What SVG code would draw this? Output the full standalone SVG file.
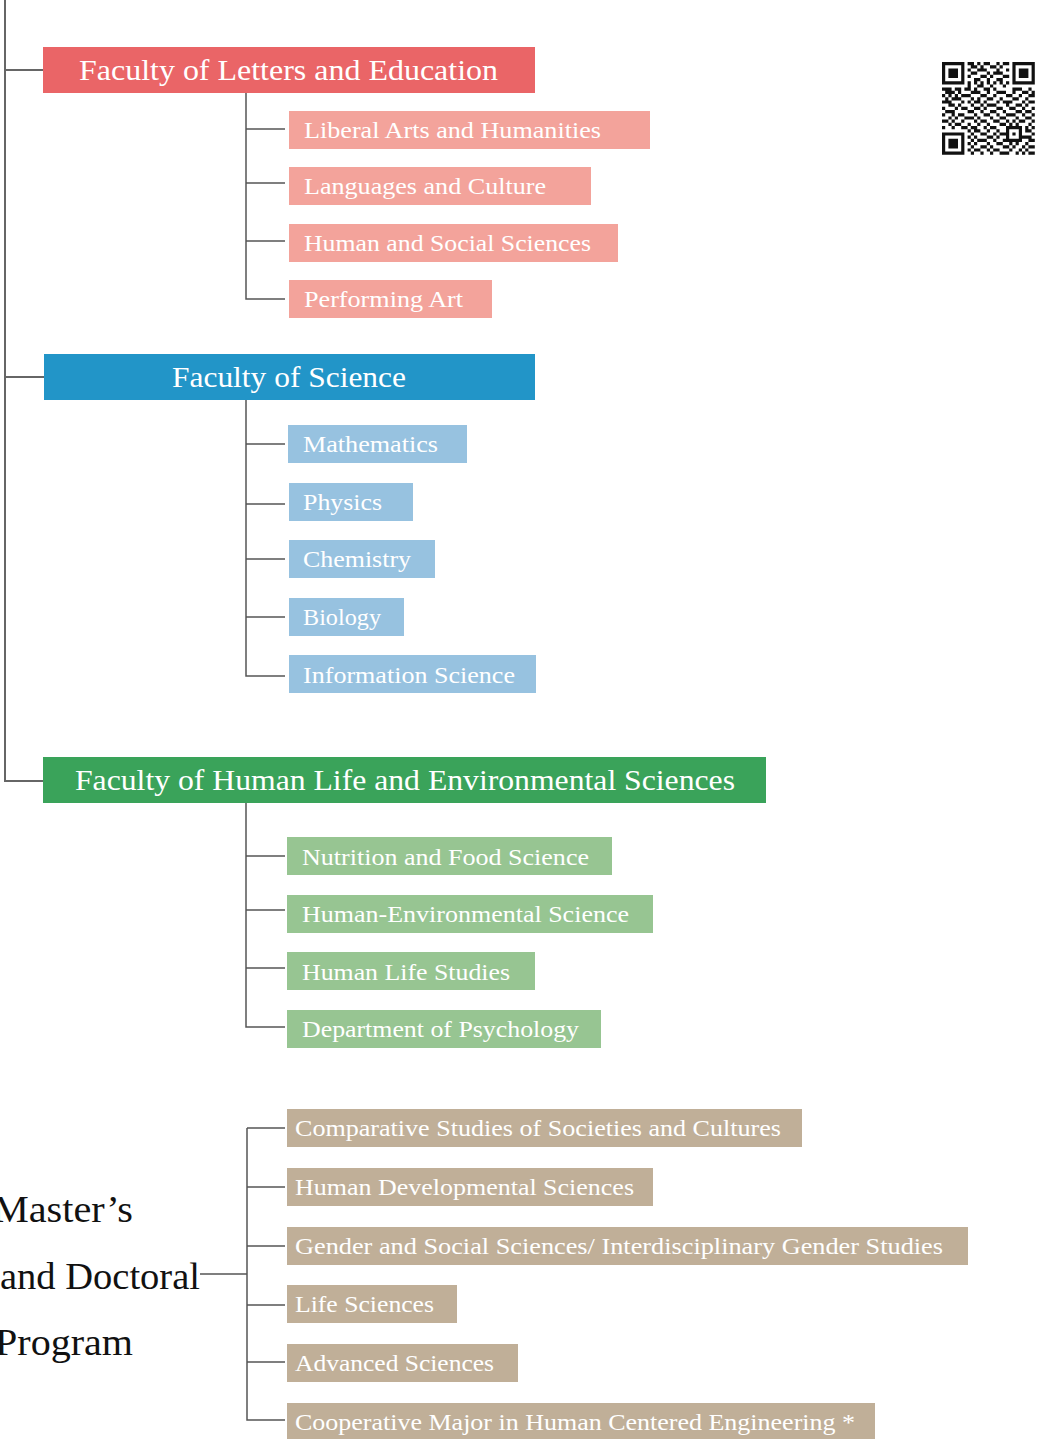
<svg xmlns="http://www.w3.org/2000/svg" width="1039" height="1439" viewBox="0 0 1039 1439">
<style>
.t{font-family:"Liberation Serif","Times New Roman",serif;fill:#fff}
.f{font-size:30px}
.s{font-size:23px}
.m{font-family:"Liberation Serif","Times New Roman",serif;font-size:38px;fill:#111}
.ln{fill:none;stroke:#555;stroke-width:1.5}
.tr{fill:none;stroke:#666;stroke-width:2}
.red{fill:#EA6567}.pink{fill:#F3A39B}
.blue{fill:#2295C8}.lblue{fill:#97C2E0}
.green{fill:#3AA35A}.lgreen{fill:#97C592}
.tan{fill:#C0AF98}
</style>
<rect width="1039" height="1439" fill="#fff"/>
<g id="connectors">
<path class="tr" d="M5 0V781H43M5 70H44M5 377H44"/>
<path class="ln" d="M246 93V299H285M246 129H285M246 183H285M246 241H285"/>
<path class="ln" d="M246 400V676H285M246 444H285M246 504H285M246 559H285M246 617H285"/>
<path class="ln" d="M246 803V1027H285M246 856H285M246 910H285M246 968H285"/>
<path class="ln" d="M200 1274H247M247 1128V1420H285M247 1128H285M247 1187H285M247 1246H285M247 1305H285M247 1362H285"/>
</g>
<g id="fac-letters"><rect class="red" x="43" y="47" width="492" height="46"/><text class="t f" x="79" y="80" textLength="419" lengthAdjust="spacingAndGlyphs">Faculty of Letters and Education</text></g>
<g id="liberal"><rect class="pink" x="289" y="111" width="361" height="38"/><text class="t s" x="304" y="138" textLength="297" lengthAdjust="spacingAndGlyphs">Liberal Arts and Humanities</text></g>
<g id="languages"><rect class="pink" x="289" y="167" width="302" height="38"/><text class="t s" x="304" y="194" textLength="242" lengthAdjust="spacingAndGlyphs">Languages and Culture</text></g>
<g id="human-social"><rect class="pink" x="289" y="224" width="329" height="38"/><text class="t s" x="304" y="251" textLength="287" lengthAdjust="spacingAndGlyphs">Human and Social Sciences</text></g>
<g id="performing"><rect class="pink" x="289" y="280" width="203" height="38"/><text class="t s" x="304" y="307" textLength="159" lengthAdjust="spacingAndGlyphs">Performing Art</text></g>
<g id="fac-science"><rect class="blue" x="44" y="354" width="491" height="46"/><text class="t f" x="172" y="387" textLength="234" lengthAdjust="spacingAndGlyphs">Faculty of Science</text></g>
<g id="math"><rect class="lblue" x="288" y="425" width="179" height="38"/><text class="t s" x="303" y="452" textLength="135" lengthAdjust="spacingAndGlyphs">Mathematics</text></g>
<g id="physics"><rect class="lblue" x="289" y="483" width="124" height="38"/><text class="t s" x="303" y="510" textLength="79" lengthAdjust="spacingAndGlyphs">Physics</text></g>
<g id="chemistry"><rect class="lblue" x="289" y="540" width="146" height="38"/><text class="t s" x="303" y="567" textLength="108" lengthAdjust="spacingAndGlyphs">Chemistry</text></g>
<g id="biology"><rect class="lblue" x="289" y="598" width="115" height="38"/><text class="t s" x="303" y="625" textLength="78" lengthAdjust="spacingAndGlyphs">Biology</text></g>
<g id="info"><rect class="lblue" x="289" y="655" width="247" height="38"/><text class="t s" x="303" y="683" textLength="212" lengthAdjust="spacingAndGlyphs">Information Science</text></g>
<g id="fac-hle"><rect class="green" x="43" y="757" width="723" height="46"/><text class="t f" x="75" y="790" textLength="660" lengthAdjust="spacingAndGlyphs">Faculty of Human Life and Environmental Sciences</text></g>
<g id="nutrition"><rect class="lgreen" x="287" y="837" width="325" height="38"/><text class="t s" x="302" y="865" textLength="287" lengthAdjust="spacingAndGlyphs">Nutrition and Food Science</text></g>
<g id="human-env"><rect class="lgreen" x="287" y="895" width="366" height="38"/><text class="t s" x="302" y="922" textLength="327" lengthAdjust="spacingAndGlyphs">Human-Environmental Science</text></g>
<g id="human-life"><rect class="lgreen" x="287" y="952" width="248" height="38"/><text class="t s" x="302" y="980" textLength="208" lengthAdjust="spacingAndGlyphs">Human Life Studies</text></g>
<g id="psychology"><rect class="lgreen" x="287" y="1010" width="314" height="38"/><text class="t s" x="302" y="1037" textLength="277" lengthAdjust="spacingAndGlyphs">Department of Psychology</text></g>
<g id="program"><text class="m" x="-7" y="1222" textLength="140" lengthAdjust="spacingAndGlyphs">Master’s</text><text class="m" x="0" y="1289" textLength="200" lengthAdjust="spacingAndGlyphs">and Doctoral</text><text class="m" x="-5" y="1355" textLength="138" lengthAdjust="spacingAndGlyphs">Program</text></g>
<g id="comparative"><rect class="tan" x="287" y="1109" width="515" height="38"/><text class="t s" x="295" y="1136" textLength="486" lengthAdjust="spacingAndGlyphs">Comparative Studies of Societies and Cultures</text></g>
<g id="developmental"><rect class="tan" x="287" y="1168" width="366" height="38"/><text class="t s" x="295" y="1195" textLength="339" lengthAdjust="spacingAndGlyphs">Human Developmental Sciences</text></g>
<g id="gender"><rect class="tan" x="287" y="1227" width="681" height="38"/><text class="t s" x="295" y="1254" textLength="648" lengthAdjust="spacingAndGlyphs">Gender and Social Sciences/ Interdisciplinary Gender Studies</text></g>
<g id="life-sci"><rect class="tan" x="287" y="1285" width="170" height="38"/><text class="t s" x="295" y="1312" textLength="139" lengthAdjust="spacingAndGlyphs">Life Sciences</text></g>
<g id="advanced"><rect class="tan" x="287" y="1344" width="231" height="38"/><text class="t s" x="295" y="1371" textLength="199" lengthAdjust="spacingAndGlyphs">Advanced Sciences</text></g>
<g id="cooperative"><rect class="tan" x="287" y="1403" width="588" height="36"/><text class="t s" x="295" y="1430" textLength="560" lengthAdjust="spacingAndGlyphs">Cooperative Major in Human Centered Engineering *</text></g>
<g id="qr" transform="translate(942,62) scale(3.2)" fill="#111">
<path fill-rule="evenodd" d="M0 0h7v7h-7zM1 1h5v5h-5zM2 2h3v3h-3zM22 0h7v7h-7zM23 1h5v5h-5zM24 2h3v3h-3zM0 22h7v7h-7zM1 23h5v5h-5zM2 24h3v3h-3zM20 20h5v5h-5zM21 21h3v3h-3zM22 22h1v1h-1z"/>
<path d="M8 0h2v1h-2zM11 0h1v1h-1zM13 0h2v1h-2zM17 0h1v1h-1zM19 0h2v1h-2z
M9 1h2v1h-2zM12 1h1v1h-1zM15 1h2v1h-2zM18 1h1v1h-1z
M8 2h1v1h-1zM11 2h3v1h-3zM17 2h1v1h-1zM20 2h1v1h-1z
M9 3h2v1h-2zM14 3h1v1h-1zM16 3h3v1h-3z
M8 4h1v1h-1zM12 4h2v1h-2zM15 4h1v1h-1zM19 4h2v1h-2z
M10 5h2v1h-2zM14 5h1v1h-1zM17 5h2v1h-2z
M8 6h1v1h-1zM10 6h1v1h-1zM12 6h1v1h-1zM14 6h1v1h-1zM16 6h1v1h-1zM18 6h1v1h-1zM20 6h1v1h-1z
M8 7h1v1h-1zM11 7h2v1h-2zM15 7h1v1h-1zM19 7h1v1h-1z
M0 8h3v1h-3zM4 8h2v1h-2zM7 8h2v1h-2zM10 8h1v1h-1zM13 8h2v1h-2zM16 8h1v1h-1zM22 8h3v1h-3zM27 8h1v1h-1z
M1 9h3v1h-3zM5 9h1v1h-1zM9 9h3v1h-3zM14 9h1v1h-1zM17 9h3v1h-3zM22 9h1v1h-1zM25 9h2v1h-2zM28 9h1v1h-1z
M0 10h1v1h-1zM2 10h1v1h-1zM4 10h1v1h-1zM6 10h3v1h-3zM12 10h2v1h-2zM16 10h1v1h-1zM20 10h2v1h-2zM24 10h1v1h-1zM27 10h2v1h-2z
M1 11h1v1h-1zM3 11h3v1h-3zM9 11h1v1h-1zM11 11h1v1h-1zM14 11h2v1h-2zM18 11h1v1h-1zM22 11h2v1h-2zM26 11h1v1h-1z
M0 12h3v1h-3zM6 12h1v1h-1zM8 12h1v1h-1zM10 12h2v1h-2zM13 12h1v1h-1zM17 12h1v1h-1zM19 12h3v1h-3zM25 12h1v1h-1zM27 12h2v1h-2z
M2 13h2v1h-2zM5 13h1v1h-1zM9 13h1v1h-1zM12 13h1v1h-1zM14 13h3v1h-3zM20 13h1v1h-1zM23 13h2v1h-2zM26 13h1v1h-1z
M0 14h1v1h-1zM4 14h1v1h-1zM6 14h2v1h-2zM10 14h2v1h-2zM13 14h1v1h-1zM17 14h2v1h-2zM21 14h2v1h-2zM25 14h1v1h-1zM28 14h1v1h-1z
M1 15h3v1h-3zM8 15h2v1h-2zM12 15h1v1h-1zM15 15h2v1h-2zM19 15h1v1h-1zM23 15h2v1h-2zM26 15h2v1h-2z
M0 16h1v1h-1zM3 16h1v1h-1zM5 16h2v1h-2zM10 16h1v1h-1zM13 16h2v1h-2zM17 16h1v1h-1zM20 16h3v1h-3zM25 16h1v1h-1zM28 16h1v1h-1z
M2 17h1v1h-1zM4 17h1v1h-1zM7 17h3v1h-3zM11 17h1v1h-1zM15 17h1v1h-1zM18 17h2v1h-2zM23 17h1v1h-1zM26 17h2v1h-2z
M0 18h2v1h-2zM3 18h1v1h-1zM6 18h1v1h-1zM10 18h1v1h-1zM12 18h2v1h-2zM16 18h2v1h-2zM20 18h1v1h-1zM22 18h1v1h-1zM24 18h2v1h-2zM28 18h1v1h-1z
M2 19h1v1h-1zM4 19h2v1h-2zM8 19h1v1h-1zM11 19h1v1h-1zM14 19h1v1h-1zM18 19h2v1h-2zM21 19h1v1h-1zM23 19h1v1h-1zM27 19h1v1h-1z
M0 20h1v1h-1zM3 20h1v1h-1zM6 20h2v1h-2zM9 20h2v1h-2zM13 20h1v1h-1zM15 20h2v1h-2zM26 20h1v1h-1zM28 20h1v1h-1z
M8 21h1v1h-1zM10 21h2v1h-2zM14 21h1v1h-1zM17 21h1v1h-1zM26 21h2v1h-2z
M9 22h1v1h-1zM12 22h2v1h-2zM16 22h1v1h-1zM18 22h2v1h-2zM28 22h1v1h-1z
M8 23h1v1h-1zM10 23h1v1h-1zM14 23h2v1h-2zM17 23h1v1h-1zM25 23h3v1h-3z
M9 24h1v1h-1zM11 24h3v1h-3zM16 24h1v1h-1zM19 24h1v1h-1zM27 24h2v1h-2z
M8 25h1v1h-1zM10 25h1v1h-1zM14 25h1v1h-1zM17 25h2v1h-2zM21 25h1v1h-1zM23 25h1v1h-1zM26 25h1v1h-1z
M9 26h1v1h-1zM12 26h2v1h-2zM15 26h1v1h-1zM19 26h2v1h-2zM22 26h1v1h-1zM25 26h1v1h-1zM27 26h2v1h-2z
M8 27h1v1h-1zM10 27h2v1h-2zM14 27h1v1h-1zM16 27h2v1h-2zM21 27h1v1h-1zM24 27h1v1h-1zM26 27h1v1h-1z
M9 28h1v1h-1zM12 28h1v1h-1zM15 28h1v1h-1zM18 28h3v1h-3zM23 28h1v1h-1zM25 28h1v1h-1zM27 28h2v1h-2z"/>
</g>
</svg>
